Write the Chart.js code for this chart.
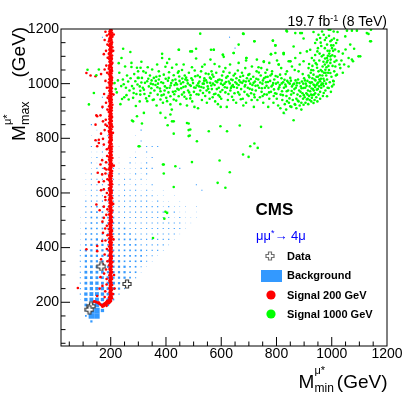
<!DOCTYPE html>
<html>
<head>
<meta charset="utf-8">
<script src="https://cdn.jsdelivr.net/npm/chart.js@4"></script>
<style>
html,body{margin:0;padding:0;background:#fff;}
#wrap{position:relative;width:407px;height:396px;overflow:hidden;}
canvas{position:absolute;left:0;top:0;}
.t{position:absolute;white-space:nowrap;font-family:'Liberation Sans',Arial,Helvetica,sans-serif;color:#000;}
.rot{position:absolute;width:0;height:0;transform-origin:0 0;transform:rotate(-90deg);}
</style>
</head>
<body>
<div id="wrap">
<canvas id="c" width="407" height="396"></canvas>

<div class="t" style="right:20px;top:13.6px;font-size:14px;line-height:14px;">19.7 fb<span style="font-size:9px;vertical-align:5px;line-height:0;">-1</span> (8 TeV)</div>

<div class="t" style="left:255.5px;top:201.3px;font-size:17px;line-height:17px;font-weight:bold;">CMS</div>
<div class="t" style="left:256px;top:229px;font-size:13px;line-height:13px;color:#0000ff;">μμ<span style="font-size:9px;vertical-align:4px;line-height:0;">*</span>→ 4μ</div>

<div class="t" style="left:287px;top:250.7px;font-size:11px;line-height:11px;font-weight:bold;">Data</div>
<div class="t" style="left:287px;top:270.2px;font-size:11px;line-height:11px;font-weight:bold;">Background</div>
<div class="t" style="left:287px;top:289.7px;font-size:11px;line-height:11px;font-weight:bold;">Signal 200 GeV</div>
<div class="t" style="left:287px;top:308.7px;font-size:11px;line-height:11px;font-weight:bold;">Signal 1000 GeV</div>

<!-- x axis title -->
<div class="t" style="left:298.5px;top:371.9px;font-size:19px;line-height:19px;">M</div>
<div class="t" style="left:314.5px;top:364.7px;font-size:11px;line-height:11px;">μ*</div>
<div class="t" style="left:314.5px;top:381.8px;font-size:12px;line-height:12px;">min</div>
<div class="t" style="right:19.5px;top:371.9px;font-size:19px;line-height:19px;">(GeV)</div>

<!-- y axis title (rotated) -->
<div class="rot" style="left:25px;top:141px;">
  <div class="t" style="left:0px;top:-16.1px;font-size:19px;line-height:19px;">M</div>
  <div class="t" style="left:16px;top:-23.3px;font-size:11px;line-height:11px;">μ*</div>
  <div class="t" style="left:16px;top:-6.2px;font-size:12.5px;line-height:12.5px;">max</div>
  <div class="t" style="left:63.5px;top:-16.1px;font-size:19px;line-height:19px;">(GeV)</div>
</div>
</div>

<script>
// ---------------- data ----------------
const xTickValues = [200, 400, 600, 800, 1000, 1200];
const yTickValues = [200, 400, 600, 800, 1000, 1200];

const dataPoints = [[166,331],[259,267],[129,185],[123,173]];

// Background: 20 GeV bins, relative box content (10 = full bin)
const bgXCenters = [90,110,130,150,170,190,210,230,250,270,290,310,330,350,370,390,410,430,450,470,490,510];
const bgYCenters = [130,150,170,190,210,230,250,270,290,310,330,350,370,390,410,430,450,470,490,510,530,550,570,590,610,630,650,670,690,710,730,750,770,790,810,830,850];
const bgContent = [
 [0,0,4],
 [0,3,10,10],
 [0,3,10,10,6],
 [0,5,8,8,6,4],
 [1,6,7,7,6,5,3],
 [2,6,7,7,6,5,4,2],
 [2,5,6,6,6,5,5,4,2],
 [2,5,6,6,5,5,5,4,4,2],
 [2,5,5,5,5,5,4,4,4,3,2],
 [2,5,5,5,5,4,4,4,4,3,3,1],
 [2,4,5,5,4,4,4,4,4,3,3,2,1],
 [2,4,4,4,4,4,4,4,3,3,3,3,2,1],
 [2,4,4,4,4,4,4,3,3,3,3,3,2,2,1],
 [2,4,4,4,4,4,3,3,3,3,3,3,2,2,2,1],
 [1,3,4,4,4,3,3,3,3,3,3,2,2,2,2,2,1],
 [1,3,3,4,3,3,3,3,3,3,3,2,2,2,2,2,2,1],
 [1,3,3,3,3,3,3,3,3,3,2,2,2,2,2,2,2,2,1],
 [1,3,3,3,3,3,3,3,3,2,2,2,2,2,2,2,2,2,2,1],
 [1,2,3,3,3,3,3,3,2,2,2,2,2,2,2,2,2,2,2,1,1],
 [1,2,3,3,3,3,3,2,2,2,2,2,2,2,2,2,2,1,2,1,1,1],
 [0,2,3,3,3,2,2,2,2,2,2,2,2,2,2,2,1,2,1,1,0,1],
 [0,2,2,3,2,2,2,2,2,2,2,2,2,2,2,1,2,1,1,1,0,1],
 [0,2,2,2,2,2,2,2,2,2,2,2,2,1,2,1,1,0,1],
 [0,1,2,2,2,2,2,2,2,2,2,2,2,2,1,1,0,1],
 [0,1,2,2,2,2,2,1,2,2,2,1,2,1,0,1],
 [0,1,2,2,2,2,1,2,2,1,2,1,1,2],
 [0,1,2,2,2,1,2,1,2,2,1,2,1],
 [0,1,2,1,2,2,1,2,1,1,2,1,2],
 [0,0,1,2,2,1,2,1,1,1,1,2,2,2],
 [0,0,2,1,1,2,1,1,0,2,1,1,2],
 [0,0,1,2,1,1,0,1,0,1,2,0,1,2],
 [0,0,1,1,2,0,1,0,0,0,1,0,2],
 [0,0,2,0,1,0,0,1,0,0,0,1,2,2,2],
 [0,0,0,2,0,1,0,0,0,0,0,2],
 [0,0,1,0,0,2,0,0,0,0,1],
 [0,0,0,1,0,0,0,0,0,0,0,2],
 [0,0,2,0,0,1]
];
const bgExtra = [[630,1170,2],[650,1130,2],[830,890,2],[530,610,2],[510,630,2],[450,690,2],[170,1170,2],[170,950,2],[170,910,2]];
const bgFull = 10;

const sig200Band = [
[199,1198],[203,1195],[196,1192],[201,1189],[205,1186],[198,1184],[194,1181],[202,1178],[199,1175],[206,1172],[197,1169],[201,1166],[195,1163],[203,1160],[199,1157],[193,1154],[205,1151],[200,1148],[197,1145],[203,1142],[194,1139],[200,1136],[206,1133],[198,1130],[202,1127],[195,1124],[200,1121],[204,1118],[197,1115],[201,1112],[193,1109],[199,1106],[205,1103],[196,1100],[202,1097],[199,1094],[194,1091],[203,1088],[198,1085],[201,1082],[196,1079],[206,1076],[199,1073],[203,1070],[195,1067],[200,1064],[197,1061],[204,1058],[193,1055],[201,1052],[198,1049],[205,1046],[196,1043],[200,1040],[203,1037],[194,1034],[199,1031],[202,1028],[197,1025],[205,1022],[200,1019],[195,1016],[203,1013],[198,1010],[201,1007],[193,1004],[206,1001],
[199,998],[196,995],[202,992],[200,989],[194,986],[204,983],[198,980],[201,977],[195,974],[203,971],[199,968],[197,965],[205,962],[200,959],[193,956],[202,953],[198,950],[201,947],[196,944],[204,941],[199,938],[195,935],[203,932],[200,929],[197,926],[206,923],[199,920],[194,917],[202,914],[198,911],[201,908],[196,905],[204,902],[200,899],[193,896],[199,893],[203,890],[197,887],[201,884],[195,881],[205,878],[199,875],[202,872],[196,869],[200,866],[204,863],[198,860],[194,857],[201,854],[197,851],[203,848],[199,845],[206,842],[195,839],[200,836],[202,833],[197,830],[193,827],[201,824],[199,821],[204,818],[196,815],[200,812],[203,809],[198,806],[195,803],[201,800],
[199,797],[204,794],[197,791],[201,788],[194,785],[200,782],[203,779],[198,776],[196,773],[205,770],[200,767],[193,764],[202,761],[199,758],[197,755],[204,752],[200,749],[195,746],[201,743],[198,740],[203,737],[196,734],[200,731],[206,728],[199,725],[194,722],[202,719],[197,716],[201,713],[199,710],[204,707],[195,704],[200,701],[198,698],[203,695],[196,692],[201,689],[193,686],[199,683],[205,680],[200,677],[197,674],[202,671],[198,668],[195,665],[204,662],[200,659],[196,656],[202,653],[199,650],[194,647],[203,644],[197,641],[201,638],[199,635],[205,632],[196,629],[200,626],[203,623],[198,620],[194,617],[201,614],[199,611],[204,608],[197,605],[200,602],
[202,599],[198,596],[195,593],[203,590],[200,587],[197,584],[205,581],[199,578],[194,575],[201,572],[198,569],[203,566],[196,563],[200,560],[204,557],[199,554],[195,551],[202,548],[197,545],[201,542],[199,539],[206,536],[196,533],[200,530],[203,527],[198,524],[194,521],[201,518],[199,515],[204,512],[197,509],[200,506],[202,503],[196,500],[199,497],[205,494],[198,491],[201,488],[195,485],[203,482],[200,479],[197,476],[202,473],[199,470],[194,467],[204,464],[200,461],[197,458],[201,455],[198,452],[203,449],[196,446],[200,443],[205,440],[199,437],[195,434],[202,431],[198,428],[201,425],[196,422],[204,419],[200,416],[197,413],[203,410],[199,407],[194,404],[201,401],
[198,398],[203,395],[200,392],[196,389],[205,386],[199,383],[202,380],[197,377],[201,374],[195,371],[204,368],[200,365],[198,362],[203,359],[196,356],[201,353],[199,350],[206,347],[197,344],[202,341],[200,338],[194,335],[204,332],[199,329],[201,326],[196,323],[203,320],[198,317],[200,314],[205,311],[197,308],[202,305],[199,302],[195,299],[203,296],[200,293],[197,290],[201,287],[204,284],[198,281],[200,278],[196,275],[203,272],[199,269],[201,266],[205,263],[197,260],[200,257],[202,254],[195,251],[199,248],[204,245],[198,242],[201,239],[196,236],[203,233],[200,230],[197,227],[202,224],[199,221],[194,218],[201,215],[196,212],[199,209],[192,206],[188,204],[195,203],[184,201],[190,199],[180,197],[186,195],[176,194],[182,192],[172,191],[178,189],[168,188],[163,192],[158,196],[152,199],[146,202],[141,204],[170,184],[175,186],[185,187],[193,196],[197,200],[205,215],[208,230]
];
const sig200Fill = [
[201,1197],[197,1187],[204,1177],[199,1167],[195,1157],[202,1147],[198,1137],[203,1122],[196,1112],[200,1102],[204,1092],[197,1082],[201,1072],[195,1062],[203,1052],[199,1042],[197,1032],[201,1022],[204,1012],[196,1002],[200,993],[203,983],[197,973],[199,963],[202,952],[195,942],[201,932],[198,922],[204,912],[197,902],[200,892],[202,882],[196,872],[199,862],[203,852],[197,842],[201,832],[195,822],[199,812],[203,802],[197,792],[201,781],[196,771],[203,761],[199,751],[202,741],[195,731],[201,721],[198,711],[204,701],[197,691],[200,681],[203,671],[196,661],[199,651],[202,641],[197,631],[201,621],[195,611],[203,601],[199,591],[197,580],[201,570],[204,561],[196,550],[200,540],[202,530],[197,520],[199,510],[203,500],[196,490],[201,480],[198,470],[204,460],[197,450],[200,440],[202,430],[195,420],[199,410],[203,400],[197,390],[201,380],[198,370],[203,361],[196,351],[200,341],[202,331],[197,321],[201,311],[199,301],[203,291],[196,281],[200,271],[198,261],[202,251],[197,241],[200,231],[203,221],[198,213],[195,208],[201,205],[190,202],[183,196],[174,190],[166,190],[155,197],[160,194],[148,200],[178,193],[171,187]
];
const sig200Halo = [
[181,1190],[186,1176],[178,1160],[188,1143],[183,1120],[175,1108],[189,1095],[184,1066],[178,1052],[187,1040],[112,1039],[127,1030],[145,1027],[165,1035],[181,1010],[186,985],[176,962],[189,948],[183,930],[170,915],[188,905],[151,881],[163,884],[148,884],[172,862],[145,850],[182,868],[187,845],[178,830],[165,817],[181,850],[157,795],[145,793],[157,783],[172,798],[151,771],[175,777],[186,760],[187,735],[169,720],[163,704],[183,712],[178,690],[184,686],[153,674],[169,668],[181,671],[175,643],[157,640],[188,650],[165,610],[175,613],[186,600],[180,585],[181,574],[148,558],[175,550],[160,537],[188,540],[184,520],[175,509],[170,495],[186,480],[180,470],[172,454],[188,445],[169,424],[181,426],[151,406],[112,394],[151,387],[186,395],[178,375],[165,357],[172,339],[188,350],[183,320],[163,292],[176,305],[185,285],[81,252],[151,223],[178,219],[175,190],[157,199],[139,202],[187,205],[170,260],[180,240],[160,250],[185,265],
[209,1120],[210,960],[208,820],[211,700],[209,560],[210,430],[212,300],[214,250],[211,1180]
];

const sig1000Band = [
[214,1002],[222,968],[231,1040],[238,991],[244,1015],[249,950],[255,985],[259,1030],[226,1012],[241,944],[252,1063],[218,980],[235,925],[247,998],[257,958],[229,1075],[245,1128],[271,1116],[239,1094],
[263,1008],[268,975],[272,1020],[277,991],[281,948],[285,1035],[289,1009],[293,962],[297,997],[301,1021],[305,935],[308,1058],[265,942],[275,1061],[283,982],[291,918],[299,1045],[307,974],[275,1076],[311,1080],[295,1058],[298,1021],[283,966],[307,960],[277,865],[295,881],
[313,1021],[316,985],[320,978],[324,1003],[328,946],[332,1009],[334,1060],[338,990],[342,1030],[344,966],[348,1012],[350,1052],[352,940],[356,1021],[358,975],[332,936],[356,942],[320,893],[313,854],[345,1000],[327,1040],[339,955],[318,1045],
[362,995],[365,1025],[368,1070],[370,960],[374,1045],[374,1015],[378,982],[380,972],[380,942],[383,1005],[386,1109],[386,1094],[389,930],[392,1033],[392,960],[396,990],[398,1062],[401,948],[404,1076],[404,936],[407,1011],[366,920],[371,1000],[395,975],[380,893],[398,875],[409,968],
[410,1021],[413,985],[416,954],[416,924],[419,1002],[422,1058],[425,970],[428,1031],[428,942],[431,995],[434,1015],[434,972],[437,938],[440,997],[443,1040],[446,1045],[446,978],[446,954],[449,1010],[452,925],[455,983],[458,1050],[412,1090],[438,1070],[458,960],[421,905],[447,1124],
[462,1005],[465,968],[468,1030],[471,990],[474,945],[477,1012],[480,975],[483,1040],[486,995],[489,958],[492,1020],[495,935],[498,1002],[501,970],[504,1048],[507,985],[509,1092],[488,1118],[509,1128],[464,1070],[476,920],[494,1060],[503,915],[470,1015],[488,946],
[512,993],[515,1030],[518,960],[521,1008],[524,975],[527,1045],[530,940],[533,1000],[536,985],[539,1020],[540,1070],[542,955],[545,1012],[548,930],[551,990],[554,1035],[557,968],[560,1003],[561,1088],[516,910],[531,1062],[547,975],[558,945],[520,990],[537,1000],
[563,1018],[566,980],[569,950],[572,1025],[573,1124],[576,1072],[576,995],[579,963],[582,1040],[585,1005],[588,925],[591,985],[593,1063],[594,1015],[597,970],[600,945],[603,1030],[606,995],[606,1106],[609,1098],[565,1045],[578,935],[590,958],[602,1012],[570,1000],[598,915],
[612,1000],[615,1057],[615,968],[618,1022],[621,985],[624,940],[627,1008],[630,1040],[633,975],[636,1015],[639,952],[642,995],[645,1112],[645,1030],[648,965],[651,1005],[654,930],[657,985],[660,1048],[620,915],[632,1070],[644,940],[655,1020],[663,1076],[663,1143],[638,990],
[663,995],[666,960],[669,1025],[672,980],[675,1040],[678,945],[681,1010],[684,970],[687,1057],[687,995],[690,1085],[690,930],[693,1020],[696,985],[699,955],[702,1035],[705,1000],[708,965],[711,1063],[670,1005],[691,1094],[680,920],[700,1010],[710,940],[681,1182],
[713,995],[716,1025],[719,960],[720,1155],[722,1008],[725,975],[728,1045],[729,1088],[731,940],[734,1015],[737,985],[740,950],[743,1030],[745,1057],[746,970],[749,1000],[752,930],[754,1079],[755,1020],[758,985],[718,915],[735,1060],[750,955],[760,1040],[724,992],
[762,1005],[765,960],[766,1051],[768,1025],[771,985],[774,1076],[774,945],[777,1010],[780,970],[780,1108],[783,1035],[784,1045],[786,995],[787,1157],[789,930],[792,1015],[795,965],[796,1112],[796,1140],[798,1000],[801,945],[802,1085],[804,1025],[807,980],[808,1070],[770,915],[790,955],[806,920],
[812,995],[815,960],[817,1057],[818,1020],[820,972],[821,940],[824,1005],[826,1108],[826,1112],[827,985],[830,925],[832,997],[833,1035],[836,955],[838,1045],[838,936],[839,1010],[842,975],[844,1082],[845,930],[848,1000],[850,1021],[850,1082],[850,917],[853,960],[856,1063],[856,990],[859,940],[814,910],[835,905],[854,915],[862,866],[826,893],
[862,1136],[862,966],[864,1000],[866,925],[868,1094],[868,923],[870,985],[872,945],[874,1003],[876,960],[878,1015],[880,1045],[880,935],[882,975],[884,920],[886,1112],[886,954],[888,990],[890,930],[892,1008],[894,965],[896,945],[898,1082],[898,984],[898,923],[900,1020],[866,1050],[884,1070],[895,1035],[872,910],[890,905]
];
const sig1000Core = [
[305,990],[311,1004],[322,962],[336,1018],[347,983],[353,998],[363,1010],[369,987],[377,1028],[384,957],[390,1002],[399,1018],[403,984],[411,1042],[417,993],[424,1012],[430,961],[436,1002],[441,981],[448,1026],[454,1000],[459,1019],[463,988],[467,952],[473,1022],[479,1001],[484,968],[490,992],[496,1013],[502,986],[506,1027],[511,961],[517,1001],[523,1024],[528,988],[534,966],[538,1011],[544,1037],[549,1004],[553,981],[559,1022],[564,993],[568,1033],[574,961],[580,1009],[584,980],[589,1013],[595,952],[599,1000],[604,977],[608,1044],[613,987],[617,1006],[623,1027],[626,962],[631,1001],[635,984],[641,1013],[646,988],[650,1036],[656,1000],[661,968],[665,1012],[671,943],[676,1003],[679,1029],[685,990],[689,1008],[694,960],[698,1032],[703,981],[707,1017],[712,978],[717,1003],[721,950],[727,1018],[732,993],[736,1041],[741,1004],[747,983],[751,1012],[756,961],[761,1024],[764,992],[769,1006],[773,968],[778,1030],[782,990],[788,1002],[791,979],[797,1028],[800,963],[805,1004],[810,987],[813,1033],[819,1001],[823,958],[829,1014],[834,990],[837,972],[843,1004],[847,946],[852,1011],[855,973],[860,997],[865,980],[869,1012],[873,993],[877,938],[883,1002],[887,970],[891,983],[897,1000],[899,958],[903,1012],[909,992],[913,945],[919,1023],[923,1002],[927,982],[933,1049],[937,994],[941,1012],[947,1058],[951,1004],[957,1031],[961,1018],[967,1063],[972,1040],[976,1092],[982,1078],[986,1102],[992,1120],[996,1088],[1002,1104],[1006,1140],[1012,1125],[1017,1085],[980,1168],[962,1138],[948,1118],[936,1085],[926,1050],[918,1072]
];
const sig1000Cluster = [
[902,950],[904,985],[906,1000],[908,965],[910,1118],[910,942],[912,1010],[914,975],[916,1057],[916,1030],[918,955],[920,990],[922,1124],[922,972],[924,1040],[926,935],[928,1094],[928,948],[928,1005],[930,1065],[932,980],[934,1033],[934,997],[934,929],[936,960],[938,1015],[940,1149],[940,988],[942,1075],[944,950],[946,1161],[946,1070],[946,978],[948,1000],[950,1025],[952,1045],[952,960],[954,990],[956,1110],[958,1167],[958,1009],[958,970],[960,1050],[962,985],[964,1100],[964,1000],[965,1191],[966,1030],[968,955],[970,1080],[971,1179],[971,991],[971,966],[973,1010],[975,1130],[977,1051],[977,975],[979,1000],[981,1060],[983,1143],[983,1094],[983,1015],[983,954],[985,985],[987,1040],[989,1197],[989,984],[991,1110],[993,1005],[995,1155],[995,1076],[995,1039],[997,970],[999,1025],[1001,1130],[1001,990],[1003,1065],[1005,1010],[1007,1191],[1007,1009],[1007,997],[1009,1045],[1011,1100],[1013,1063],[1015,1030],[1016,1149],[1019,1033],[1021,1189],[1025,1118],[1028,1070],[1031,1057],[1035,1085],
[940,1105],[950,1130],[960,1150],[975,1160],[990,1175],[1000,1160],[985,1120],[970,1105],[955,1085],[945,1025],[930,1020],[920,1005],[912,960],[905,930],[925,960],[935,975],[945,995],[955,1015],[965,1045],[975,1070],[985,1085],[995,1100],[1005,1120],[1010,1080],[990,1050],[980,1030],[970,1018],[962,995],[950,980],[940,965],[930,958],[920,940],[915,925],[938,940],[948,935],[958,945],[968,1000],[978,1040],[988,1065],[998,1140],[1008,1165]
];
const sig1000Sparse = [
[524,1183],[679,1183],[720,1155],[787,1158],[838,1191],[868,1185],[886,1185],[892,1185],[898,1165],[934,1189],[952,1179],[995,1197],[1049,1173],[1055,1194],[1067,1143],[1073,1194],[1077,1082],[1081,1128],[1091,1194],[1097,1100],[1103,1100],[1061,1094],[1073,1088],[1061,1063],[1127,1185],[1133,1182],[1139,1155],[1142,1197],[1142,1155],[446,1124],[494,1118],[563,1124],[606,1106],[645,1112],[691,1094],[754,1082],[780,1108],[808,1070],[826,1112],[850,1082],[573,1124],[796,1140],[1040,1110],[1050,1125],[1045,1070],[1040,1040],[836,1194],[1020,1160],
[422,862],[476,856],[488,832],[555,826],[597,844],[621,826],[667,847],[744,842],[705,771],[720,781],[732,765],[679,741],[699,732],[594,719],[494,713],[392,704],[392,671],[434,698],[631,676],[587,637],[615,619],[428,622],[301,771],[482,808],[512,789],[416,887],[281,862],[406,848],[428,862],[482,854],[482,830],[428,817],[486,810],[304,771],[389,704],[398,531],[404,527],[394,506],[353,435],[121,924],[116,1051],[157,1052],[148,1031],[139,966]
];

// ---------------- build ----------------
const toXY = a => a.map(p => ({x: p[0], y: p[1]}));
const bgCells = [];
bgContent.forEach((row, i) => row.forEach((c, j) => { if (c > 0) bgCells.push({x: bgXCenters[j], y: bgYCenters[i], c: c}); }));
bgExtra.forEach(p => bgCells.push({x: p[0], y: p[1], c: p[2]}));

const BG_COLOR = 'rgb(51,153,255)';
const FONT = "'Liberation Sans', Arial, Helvetica, sans-serif";
Chart.defaults.font.family = FONT;

function makeCross(stroke) {
  const cv = document.createElement('canvas');
  cv.width = 10; cv.height = 10;
  const g = cv.getContext('2d');
  const c = 5, e = 4, h = 1.5;
  g.beginPath();
  g.moveTo(c - h, c - e); g.lineTo(c + h, c - e); g.lineTo(c + h, c - h); g.lineTo(c + e, c - h);
  g.lineTo(c + e, c + h); g.lineTo(c + h, c + h); g.lineTo(c + h, c + e); g.lineTo(c - h, c + e);
  g.lineTo(c - h, c + h); g.lineTo(c - e, c + h); g.lineTo(c - e, c - h); g.lineTo(c - h, c - h);
  g.closePath();
  g.fillStyle = '#fff'; g.fill();
  g.strokeStyle = stroke; g.lineWidth = 1.2; g.stroke();
  return cv;
}
const crossData = makeCross('#3a3a3a');
const crossLegend = makeCross('#707070');

const framePlugin = {
  id: 'rootFrame',
  afterDatasetsDraw(chart) {
    const {ctx, chartArea: a, scales: {x, y}} = chart;
    ctx.save();
    ctx.strokeStyle = '#000';
    ctx.lineWidth = 1;
    ctx.beginPath();
    for (let v = 50; v < x.max; v += 50) {
      if (v < x.min) continue;
      const px = x.getPixelForValue(v);
      const len = xTickValues.includes(v) ? 9 : 4.5;
      ctx.moveTo(px, a.bottom); ctx.lineTo(px, a.bottom - len);
    }
    for (let v = 50; v < y.max; v += 50) {
      if (v < y.min) continue;
      const py = y.getPixelForValue(v);
      const len = yTickValues.includes(v) ? 9 : 4.5;
      ctx.moveTo(a.left, py); ctx.lineTo(a.left + len, py);
    }
    ctx.stroke();
    ctx.strokeRect(a.left, a.top, a.right - a.left, a.bottom - a.top);
    ctx.restore();
  }
};

const legendPlugin = {
  id: 'legendSymbols',
  afterDraw(chart) {
    const ctx = chart.ctx;
    ctx.save();
    ctx.drawImage(crossLegend, 270 - 5, 256 - 5);
    ctx.fillStyle = BG_COLOR;
    ctx.fillRect(261, 270, 21, 12);
    ctx.fillStyle = '#ff0000';
    ctx.beginPath(); ctx.arc(271, 295, 4.6, 0, Math.PI * 2); ctx.fill();
    ctx.fillStyle = '#00ff00';
    ctx.beginPath(); ctx.arc(271, 314, 4.6, 0, Math.PI * 2); ctx.fill();
    ctx.restore();
  }
};

const tickFont = {family: FONT, size: 14};

new Chart(document.getElementById('c'), {
  type: 'scatter',
  data: {
    datasets: [
      {label: 'Data', data: toXY(dataPoints), pointStyle: crossData, pointRadius: 5, order: 0},
      {label: 'Signal 1000 GeV', data: toXY(sig1000Band.concat(sig1000Core, sig1000Cluster, sig1000Sparse)),
       backgroundColor: '#00ff00', borderWidth: 0, pointRadius: 1.3, order: 1},
      {label: 'Signal 200 GeV', data: toXY(sig200Band.concat(sig200Fill, sig200Halo)),
       backgroundColor: '#ff0000', borderWidth: 0, pointRadius: 1.3, order: 2},
      {label: 'Background', data: bgCells, pointStyle: 'rect', backgroundColor: BG_COLOR, borderWidth: 0, order: 3,
       pointRadius: (c) => {
         const v = c.raw && c.raw.c;
         if (!v) return 0;
         const sx = c.chart.scales.x;
         const bin = Math.abs(sx.getPixelForValue(bgXCenters[1]) - sx.getPixelForValue(bgXCenters[0]));
         const side = bin * v / bgFull;
         return side / (2 * Math.SQRT1_2);
       }}
    ]
  },
  options: {
    responsive: false,
    animation: false,
    devicePixelRatio: 1,
    events: [],
    layout: {padding: {left: 28, right: 20, top: 29, bottom: 0}},
    plugins: {legend: {display: false}, tooltip: {enabled: false}},
    scales: {
      x: {
        type: 'linear', min: 20, max: 1200,
        grid: {display: false, drawTicks: false},
        border: {display: false},
        afterBuildTicks: s => { s.ticks = xTickValues.map(v => ({value: v})); },
        afterFit: s => { s.height = 50; },
        ticks: {font: tickFont, color: '#000', padding: 0, autoSkip: false, maxRotation: 0, callback: v => String(v)}
      },
      y: {
        type: 'linear', min: 40, max: 1200,
        grid: {display: false, drawTicks: false},
        border: {display: false},
        afterBuildTicks: s => { s.ticks = yTickValues.map(v => ({value: v})); },
        afterFit: s => { s.width = 33; },
        ticks: {font: tickFont, color: '#000', padding: 2, autoSkip: false, callback: v => String(v)}
      }
    }
  },
  plugins: [framePlugin, legendPlugin]
});
</script>
</body>
</html>
